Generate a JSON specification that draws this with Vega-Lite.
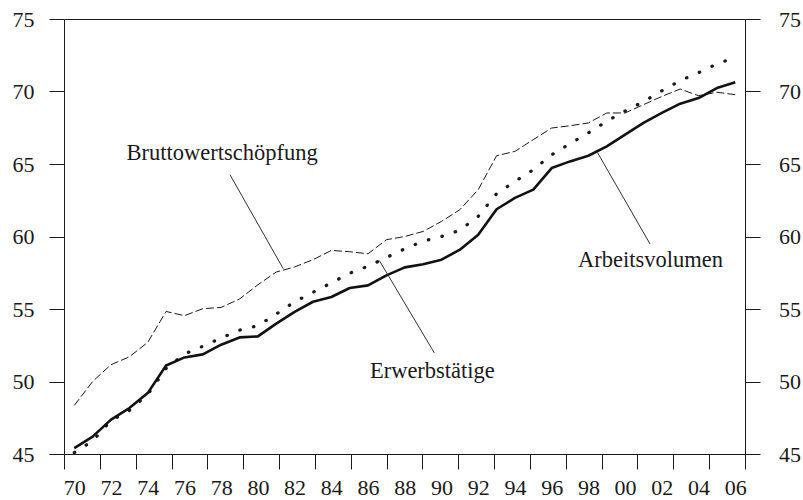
{
  "$schema": "https://vega.github.io/schema/vega-lite/v6.json",
  "width": 681,
  "height": 435,
  "autosize": {"type": "none"},
  "padding": {"left": 64, "top": 19, "right": 58, "bottom": 46},
  "background": "white",
  "config": {
    "font": "Liberation Serif",
    "view": {"stroke": "#1a1a1a", "strokeWidth": 1},
    "axis": {
      "labelFont": "Liberation Serif",
      "labelFontSize": 22,
      "labelColor": "#1a1a1a",
      "tickColor": "#1a1a1a",
      "tickWidth": 1,
      "grid": false,
      "title": null,
      "domain": false,
      "labelFlush": false,
      "labelOverlap": false
    }
  },
  "datasets": {
    "series": [
      {"year": 1970, "brutto": 48.35, "erwerb": 45.1, "arbeit": 45.4},
      {"year": 1971, "brutto": 50.0, "erwerb": 45.9, "arbeit": 46.2},
      {"year": 1972, "brutto": 51.16, "erwerb": 47.3, "arbeit": 47.37},
      {"year": 1973, "brutto": 51.7, "erwerb": 48.0, "arbeit": 48.17},
      {"year": 1974, "brutto": 52.7, "erwerb": 49.1, "arbeit": 49.2},
      {"year": 1975, "brutto": 54.83, "erwerb": 50.9, "arbeit": 51.1},
      {"year": 1976, "brutto": 54.54, "erwerb": 51.9, "arbeit": 51.66},
      {"year": 1977, "brutto": 55.02, "erwerb": 52.43, "arbeit": 51.87},
      {"year": 1978, "brutto": 55.11, "erwerb": 53.0, "arbeit": 52.54},
      {"year": 1979, "brutto": 55.69, "erwerb": 53.54, "arbeit": 53.04},
      {"year": 1980, "brutto": 56.67, "erwerb": 53.85, "arbeit": 53.11},
      {"year": 1981, "brutto": 57.55, "erwerb": 54.65, "arbeit": 53.99},
      {"year": 1982, "brutto": 57.9, "erwerb": 55.5, "arbeit": 54.8},
      {"year": 1983, "brutto": 58.4, "erwerb": 56.15, "arbeit": 55.5},
      {"year": 1984, "brutto": 59.04, "erwerb": 56.8, "arbeit": 55.83},
      {"year": 1985, "brutto": 58.95, "erwerb": 57.47, "arbeit": 56.45},
      {"year": 1986, "brutto": 58.81, "erwerb": 57.95, "arbeit": 56.63},
      {"year": 1987, "brutto": 59.78, "erwerb": 58.55, "arbeit": 57.32},
      {"year": 1988, "brutto": 60.0, "erwerb": 59.15, "arbeit": 57.87},
      {"year": 1989, "brutto": 60.35, "erwerb": 59.68, "arbeit": 58.08},
      {"year": 1990, "brutto": 61.04, "erwerb": 60.0, "arbeit": 58.4},
      {"year": 1991, "brutto": 61.85, "erwerb": 60.43, "arbeit": 59.09},
      {"year": 1992, "brutto": 63.23, "erwerb": 61.39, "arbeit": 60.12},
      {"year": 1993, "brutto": 65.57, "erwerb": 62.95, "arbeit": 61.88},
      {"year": 1994, "brutto": 65.87, "erwerb": 63.8, "arbeit": 62.66},
      {"year": 1995, "brutto": 66.68, "erwerb": 64.6, "arbeit": 63.23},
      {"year": 1996, "brutto": 67.48, "erwerb": 65.64, "arbeit": 64.72},
      {"year": 1997, "brutto": 67.64, "erwerb": 66.4, "arbeit": 65.18},
      {"year": 1998, "brutto": 67.83, "erwerb": 67.15, "arbeit": 65.57},
      {"year": 1999, "brutto": 68.52, "erwerb": 67.95, "arbeit": 66.21},
      {"year": 2000, "brutto": 68.52, "erwerb": 68.65, "arbeit": 67.02},
      {"year": 2001, "brutto": 69.09, "erwerb": 69.3, "arbeit": 67.83},
      {"year": 2002, "brutto": 69.66, "erwerb": 70.05, "arbeit": 68.52},
      {"year": 2003, "brutto": 70.17, "erwerb": 70.75, "arbeit": 69.16},
      {"year": 2004, "brutto": 69.71, "erwerb": 71.3, "arbeit": 69.55},
      {"year": 2005, "brutto": 69.95, "erwerb": 71.9, "arbeit": 70.24},
      {"year": 2006, "brutto": 69.78, "erwerb": 72.35, "arbeit": 70.63}
    ],
    "leaders": [
      {"x": 1978.48, "y": 64.26, "x2": 1981.38, "y2": 57.78},
      {"x": 1986.61, "y": 58.35, "x2": 1989.61, "y2": 51.97},
      {"x": 1998.49, "y": 65.8, "x2": 2001.36, "y2": 59.48}
    ],
    "notes": [
      {"label": "Bruttowertschöpfung", "x": 1972.85, "y": 65.3},
      {"label": "Erwerbstätige", "x": 1986.1, "y": 50.24},
      {"label": "Arbeitsvolumen", "x": 1997.43, "y": 57.87}
    ]
  },
  "resolve": {"axis": {"x": "independent", "y": "independent"}},
  "layer": [
    {
      "data": {"name": "series"},
      "mark": {"type": "line", "strokeDash": [0.5, 13.5], "strokeCap": "round", "strokeWidth": 3.2, "color": "#1a1a1a"},
      "encoding": {
        "x": {
          "field": "year", "type": "quantitative",
          "scale": {"domain": [1969.44, 2006.53], "nice": false, "zero": false},
          "axis": {
            "orient": "bottom",
            "values": [1969.44, 1971.39, 1973.34, 1975.30, 1977.25, 1979.20, 1981.15, 1983.10, 1985.06, 1987.01, 1988.96, 1990.91, 1992.86, 1994.82, 1996.77, 1998.72, 2000.67, 2002.62, 2004.58, 2006.53],
            "tickSize": 15, "labels": false, "offset": 0
          }
        },
        "y": {
          "field": "erwerb", "type": "quantitative",
          "scale": {"domain": [45, 75], "nice": false, "zero": false},
          "axis": {"orient": "right", "values": [45, 50, 55, 60, 65, 70, 75], "tickSize": 15, "labelPadding": 18.5, "offset": 0}
        }
      }
    },
    {
      "data": {"name": "series"},
      "mark": {"type": "line", "strokeDash": [8, 3], "strokeWidth": 1, "color": "#1a1a1a"},
      "encoding": {
        "x": {
          "field": "year", "type": "quantitative",
          "scale": {"domain": [1969.44, 2006.53], "nice": false, "zero": false},
          "axis": {
            "orient": "bottom",
            "values": [1970, 1972, 1974, 1976, 1978, 1980, 1982, 1984, 1986, 1988, 1990, 1992, 1994, 1996, 1998, 2000, 2002, 2004, 2006],
            "ticks": false, "tickSize": 0, "labelPadding": 40.5, "labelBaseline": "alphabetic", "offset": 0,
            "labelExpr": "substring(toString(datum.value), 2, 4)"
          }
        },
        "y": {
          "field": "brutto", "type": "quantitative",
          "scale": {"domain": [45, 75], "nice": false, "zero": false},
          "axis": {"orient": "left", "values": [45, 50, 55, 60, 65, 70, 75], "tickSize": 15, "labelPadding": 15, "offset": 0}
        }
      }
    },
    {
      "data": {"name": "series"},
      "mark": {"type": "line", "strokeWidth": 2.6, "strokeJoin": "round", "color": "#111111"},
      "encoding": {
        "x": {"field": "year", "type": "quantitative", "scale": {"domain": [1969.44, 2006.53], "nice": false, "zero": false}, "axis": null},
        "y": {"field": "arbeit", "type": "quantitative", "scale": {"domain": [45, 75], "nice": false, "zero": false}, "axis": null}
      }
    },
    {
      "data": {"name": "leaders"},
      "mark": {"type": "rule", "strokeWidth": 1, "color": "#333333"},
      "encoding": {
        "x": {"field": "x", "type": "quantitative", "scale": {"domain": [1969.44, 2006.53], "nice": false, "zero": false}, "axis": null},
        "y": {"field": "y", "type": "quantitative", "scale": {"domain": [45, 75], "nice": false, "zero": false}, "axis": null},
        "x2": {"field": "x2"},
        "y2": {"field": "y2"}
      }
    },
    {
      "data": {"name": "notes"},
      "mark": {"type": "text", "align": "left", "baseline": "alphabetic", "font": "Liberation Serif", "fontSize": 22.5, "color": "#1a1a1a"},
      "encoding": {
        "x": {"field": "x", "type": "quantitative", "scale": {"domain": [1969.44, 2006.53], "nice": false, "zero": false}, "axis": null},
        "y": {"field": "y", "type": "quantitative", "scale": {"domain": [45, 75], "nice": false, "zero": false}, "axis": null},
        "text": {"field": "label"}
      }
    }
  ]
}
